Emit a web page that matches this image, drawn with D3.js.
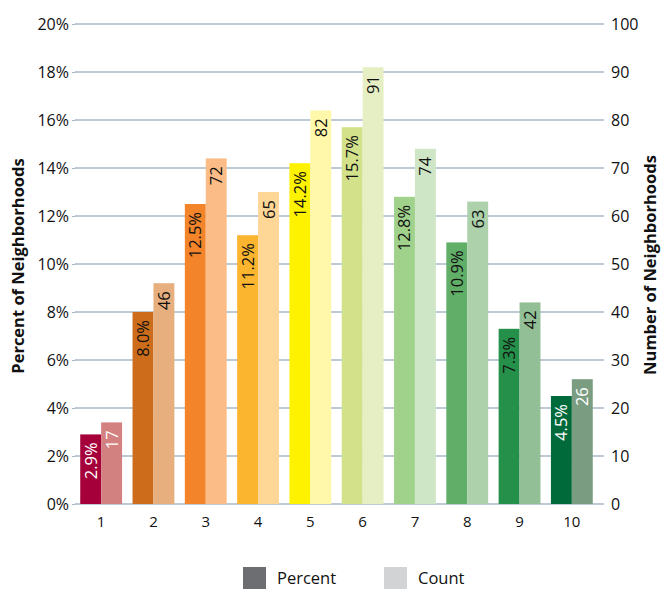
<!DOCTYPE html>
<html><head><meta charset="utf-8">
<script src="https://cdn.jsdelivr.net/npm/d3@7"></script>
<style>
body{margin:0;background:#fff;}
text{font-family:"Open Sans","Noto Sans",sans-serif;}
</style></head>
<body><svg id="c" width="672" height="590"></svg>
<script>
const categories = ["1","2","3","4","5","6","7","8","9","10"];
const percentValues = [2.9, 8.0, 12.5, 11.2, 14.2, 15.7, 12.8, 10.9, 7.3, 4.5];
const countValues = [17, 46, 72, 65, 82, 91, 74, 63, 42, 26];
const percentLabels = ["2.9%","8.0%","12.5%","11.2%","14.2%","15.7%","12.8%","10.9%","7.3%","4.5%"];
const percentTicks = [0,2,4,6,8,10,12,14,16,18,20];
const countTicks = [0,10,20,30,40,50,60,70,80,90,100];
const percentColors = ["#a6003a","#cd6d1b","#f3842a","#fbb52f","#fff200","#d3e18b","#a1d28c","#61ae68","#259049","#006a3a"];
const countColors = ["#d38080","#e7af7e","#fbbc87","#fed696","#fff7a9","#e6efc3","#cee6c5","#add1aa","#92bf95","#7a9d82"];
const labelColors = ["#fff","#111","#111","#111","#111","#111","#111","#111","#111","#fff"];
const legendItems = ["Percent","Count"];
const legendColors = ["#6d6e71","#d1d3d4"];

const svg = d3.select("#c");
const L = 75, R = 598, T = 24, B = 504;
const x = d3.scaleBand().domain(categories).range([L, R]).paddingInner(0.2).paddingOuter(0.1);
const xs = d3.scaleBand().domain(["p","c"]).range([0, x.bandwidth()]);
const yP = d3.scaleLinear().domain([0, 20]).range([B, T]);
const yC = d3.scaleLinear().domain([0, 100]).range([B, T]);

// gridlines
svg.append("g").selectAll("line").data(percentTicks).join("line")
  .attr("x1", L).attr("x2", 604)
  .attr("y1", d => yP(d)).attr("y2", d => yP(d))
  .attr("stroke", "#a7b8c9").attr("stroke-width", 1.6);

// left axis
const la = svg.append("g").attr("transform", `translate(${L},0)`)
  .call(d3.axisLeft(yP).tickValues(percentTicks).tickFormat(d => d + "%").tickSize(3).tickPadding(3));
la.select(".domain").remove();
la.selectAll("line").attr("stroke", "#a7b8c9");
la.selectAll("text").attr("font-size", 16).attr("fill", "#111");

// right axis
const ra = svg.append("g").attr("transform", `translate(604,0)`)
  .call(d3.axisRight(yC).tickValues(countTicks).tickSize(0).tickPadding(7));
ra.select(".domain").remove();
ra.selectAll("text").attr("font-size", 16).attr("fill", "#111");

// x axis labels
const xa = svg.append("g").attr("transform", `translate(0,${B})`)
  .call(d3.axisBottom(x).tickSize(0).tickPadding(12));
xa.select(".domain").remove();
xa.selectAll("text").attr("font-size", 15).attr("fill", "#111");

const groups = svg.append("g").selectAll("g").data(categories).join("g")
  .attr("transform", d => `translate(${x(d)},0)`);

groups.append("rect")
  .attr("x", xs("p")).attr("width", xs.bandwidth())
  .attr("y", (d,i) => yP(percentValues[i])).attr("height", (d,i) => B - yP(percentValues[i]))
  .attr("fill", (d,i) => percentColors[i]);
groups.append("rect")
  .attr("x", xs("c")).attr("width", xs.bandwidth())
  .attr("y", (d,i) => yC(countValues[i])).attr("height", (d,i) => B - yC(countValues[i]))
  .attr("fill", (d,i) => countColors[i]);

groups.append("text")
  .attr("transform", (d,i) => `translate(${xs("p") + xs.bandwidth()/2 + 6},${yP(percentValues[i]) + 8}) rotate(-90)`)
  .attr("text-anchor", "end").attr("font-size", 16.5).attr("fill", (d,i) => labelColors[i])
  .text((d,i) => percentLabels[i]);
groups.append("text")
  .attr("transform", (d,i) => `translate(${xs("c") + xs.bandwidth()/2 + 6},${yC(countValues[i]) + 8}) rotate(-90)`)
  .attr("text-anchor", "end").attr("font-size", 16.5).attr("fill", (d,i) => labelColors[i])
  .text((d,i) => countValues[i]);

// axis titles
svg.append("text").attr("transform", "translate(24,266) rotate(-90)")
  .attr("text-anchor", "middle").attr("font-size", 16.5).attr("font-weight", "bold").attr("fill", "#111")
  .text("Percent of Neighborhoods");
svg.append("text").attr("transform", "translate(656,265) rotate(-90)")
  .attr("text-anchor", "middle").attr("font-size", 16.5).attr("font-weight", "bold").attr("fill", "#111")
  .text("Number of Neighborhoods");

// legend
const lg = svg.append("g").selectAll("g").data(legendItems).join("g")
  .attr("transform", (d,i) => `translate(${243 + i*141},567)`);
lg.append("rect").attr("width", 23).attr("height", 22).attr("fill", (d,i) => legendColors[i]);
lg.append("text").attr("x", 34).attr("y", 17).attr("font-size", 16.5).attr("fill", "#111").text(d => d);
</script></body></html>
